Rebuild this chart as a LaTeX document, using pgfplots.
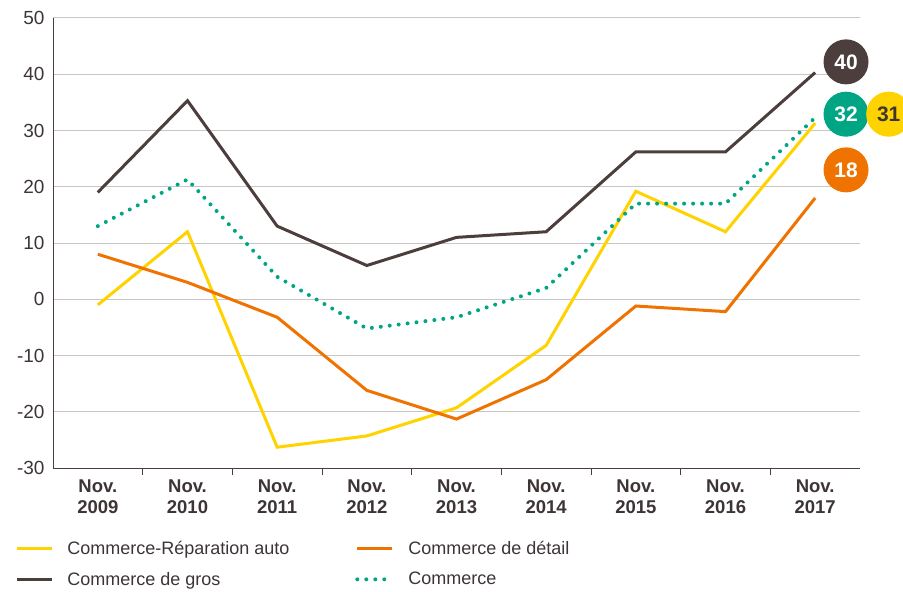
\documentclass[border=0pt]{standalone}
\usepackage{pgfplots}
\pgfplotsset{compat=1.18}
\usepackage{fontspec}
\setmainfont{Liberation Sans}
\usetikzlibrary{calc}
\definecolor{cyel}{HTML}{FFD300}
\definecolor{cora}{HTML}{EF7300}
\definecolor{cdark}{HTML}{4B3E3C}
\definecolor{cteal}{HTML}{00A584}
\definecolor{ctxt}{HTML}{3D3535}
\definecolor{cgrid}{HTML}{C9C6C5}
\begin{document}
\begin{tikzpicture}
\begin{axis}[name=ax, scale only axis, width=807pt, height=450pt,
  xmin=-0.5, xmax=8.5, ymin=-30, ymax=50,
  ytick={-30,-20,...,50}, xtick={0,...,8},
  xticklabels={{Nov.\\2009},{Nov.\\2010},{Nov.\\2011},{Nov.\\2012},{Nov.\\2013},{Nov.\\2014},{Nov.\\2015},{Nov.\\2016},{Nov.\\2017}},
  xticklabel style={align=center, yshift=-8pt, font=\bfseries\fontsize{18.5}{21}\selectfont, text=ctxt},
  yticklabel style={xshift=-5pt, font=\fontsize{19}{20}\selectfont, text=ctxt},
  /pgf/number format/assume math mode=true,
  axis x line*=bottom, axis y line*=left,
  ymajorgrids, grid style={cgrid, line width=1pt},
  major tick length=0pt,
  minor xtick={0.5,1.5,...,7.5}, minor tick length=7pt, tick align=outside,
  minor tick style={cdark, line width=0.8pt},
  axis line style={cdark, line width=1pt},
  clip=false,
  legend columns=2,
  legend style={at={(-0.047,-0.158)}, anchor=north west, draw=none, fill=none,
    inner sep=0pt, font=\fontsize{18}{20}\selectfont, text=ctxt,
    row sep=12pt, column sep=12pt},
  legend cell align=left,
  legend image code/.code={\draw[#1] (0pt,0pt) -- (35pt,0pt);},
]
\addplot[cyel, line width=3pt] coordinates {(0,-1)(1,12)(2,-26.3)(3,-24.3)(4,-19.3)(5,-8.2)(6,19.2)(7,12)(8,31.3)};
\addlegendentry{\makebox[274pt][l]{Commerce-Réparation auto}}
\addplot[cora, line width=3pt] coordinates {(0,8)(1,3)(2,-3.2)(3,-16.2)(4,-21.3)(5,-14.3)(6,-1.2)(7,-2.2)(8,18)};
\addlegendentry{Commerce de détail}
\addplot[cdark, line width=3pt] coordinates {(0,19)(1,35.3)(2,13)(3,6)(4,11)(5,12)(6,26.2)(7,26.2)(8,40.3)};
\addlegendentry{\makebox[274pt][l]{Commerce de gros}}
\addplot[cteal, line width=4pt, line cap=round, dash pattern=on 0pt off 9pt] coordinates {(0,13)(1,21.3)(2,4)(3,-5.2)(4,-3.2)(5,2)(6,17)(7,17)(8,32.3)};
\addlegendentry{Commerce}
\addplot[draw=none, forget plot, nodes near coords, point meta=explicit symbolic,
  nodes near coords style={circle, fill=cdark, text=white, minimum size=45pt, inner sep=0pt, anchor=center, font=\bfseries\fontsize{21}{22}\selectfont}]
  coordinates {(8.344,42.2)[40]};
\addplot[draw=none, forget plot, nodes near coords, point meta=explicit symbolic,
  nodes near coords style={circle, fill=cteal, text=white, minimum size=45pt, inner sep=0pt, anchor=center, font=\bfseries\fontsize{21}{22}\selectfont}]
  coordinates {(8.344,32.9)[32]};
\addplot[draw=none, forget plot, nodes near coords, point meta=explicit symbolic,
  nodes near coords style={circle, fill=cora, text=white, minimum size=45pt, inner sep=0pt, anchor=center, font=\bfseries\fontsize{21}{22}\selectfont}]
  coordinates {(8.344,23.0)[18]};
\addplot[draw=none, forget plot, nodes near coords, point meta=explicit symbolic,
  nodes near coords style={circle, fill=cyel, text=ctxt, minimum size=45pt, inner sep=0pt, anchor=center, font=\bfseries\fontsize{21}{22}\selectfont}]
  coordinates {(8.82,32.9)[31]};
\end{axis}
\pgfresetboundingbox
\path[use as bounding box] ($(ax.south west)+(-53pt,-123pt)$) rectangle ($(ax.north east)+(43pt,18pt)$);
\end{tikzpicture}
\end{document}
